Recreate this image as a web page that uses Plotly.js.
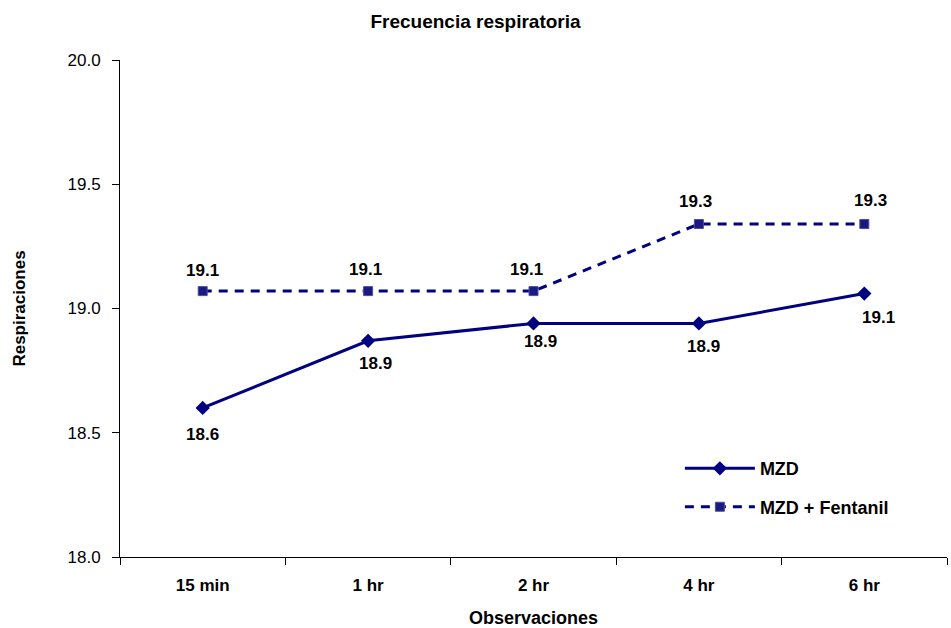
<!DOCTYPE html>
<html>
<head>
<meta charset="utf-8">
<script src="https://cdn.plot.ly/plotly-3.0.1.min.js"></script>
<style>html,body{margin:0;padding:0;background:#fff;}#chart{width:951px;height:628px;}</style>
</head>
<body>
<div id="chart"></div>
<script>
var categories = ["15 min", "1 hr", "2 hr", "4 hr", "6 hr"];
var mzd = [18.60, 18.87, 18.94, 18.94, 19.06];
var mzdFentanil = [19.07, 19.07, 19.07, 19.34, 19.34];
var yTickVals = [18.0, 18.5, 19.0, 19.5, 20.0];
var yTickText = ["18.0", "18.5", "19.0", "19.5", "20.0"];

// label placement (style only, pixel offsets from each point)
var mzdLabelDX = [0, 7, 7, 5, 14];
var mzdLabelDY = [-27, -23, -18, -23, -24];
var fenLabelDX = [0, -3, -7, -3, 6];
var fenLabelDY = [21, 22, 22, 23, 24];

var navy = "#000080";
var FONT = "Liberation Sans, Arial, sans-serif";

var traces = [
  {
    x: categories, y: mzd, name: "MZD", type: "scatter", mode: "lines+markers",
    legendgroup: "a",
    line: {color: navy, width: 3},
    marker: {symbol: "diamond", size: 11, color: navy},
    cliponaxis: false
  },
  {
    x: categories, y: mzdFentanil, name: "MZD + Fentanil", type: "scatter", mode: "lines+markers",
    legendgroup: "b",
    line: {color: navy, width: 3, dash: "9px,7px"},
    marker: {symbol: "square", size: 9, color: "#1a1a80", line: {color: "#4d4da6", width: 1}},
    cliponaxis: false
  }
];

var annotations = [];
function addLabels(vals, dx, dy) {
  for (var i = 0; i < categories.length; i++) {
    annotations.push({
      x: categories[i], y: vals[i], xref: "x", yref: "y",
      text: "<b>" + vals[i].toFixed(1) + "</b>",
      showarrow: false, xanchor: "center", yanchor: "middle",
      xshift: dx[i], yshift: dy[i],
      font: {family: FONT, size: 17, color: "#000"}
    });
  }
}
addLabels(mzd, mzdLabelDX, mzdLabelDY);
addLabels(mzdFentanil, fenLabelDX, fenLabelDY);

var layout = {
  width: 951, height: 628,
  margin: {l: 120, r: 4, t: 60, b: 71},
  paper_bgcolor: "#fff", plot_bgcolor: "#fff",
  font: {family: FONT, color: "#000"},
  title: {text: "<b>Frecuencia respiratoria</b>", x: 0.5, xanchor: "center", y: 0.966, yanchor: "middle",
          font: {size: 19, family: FONT, color: "#000"}},
  xaxis: {
    type: "category", range: [-0.5, 4.5],
    showline: true, linecolor: "#000", linewidth: 1,
    ticks: "outside", tickson: "boundaries", ticklen: 7, tickcolor: "#000",
    showgrid: false, zeroline: false,
    ticklabelstandoff: 13,
    tickfont: {size: 17, weight: "bold", family: FONT},
    title: {text: "<b>Observaciones</b>", font: {size: 18}, standoff: 16}
  },
  yaxis: {
    range: [18.0, 20.0], tickvals: yTickVals, ticktext: yTickText,
    showline: true, linecolor: "#000", linewidth: 1,
    ticks: "outside", ticklen: 7, tickcolor: "#000",
    showgrid: false, zeroline: false,
    ticklabelstandoff: 8,
    tickfont: {size: 17, family: FONT},
    title: {text: "<b>Respiraciones</b>", font: {size: 17}, standoff: 37}
  },
  annotations: annotations,
  showlegend: true,
  legend: {
    x: 0.677, y: 0.215, xanchor: "left", yanchor: "top",
    bgcolor: "rgba(0,0,0,0)",
    traceorder: "grouped", tracegroupgap: 12,
    font: {size: 18, weight: "bold", family: FONT},
    itemwidth: 70
  }
};

Plotly.newPlot("chart", traces, layout, {displayModeBar: false, staticPlot: true});
</script>
</body>
</html>
